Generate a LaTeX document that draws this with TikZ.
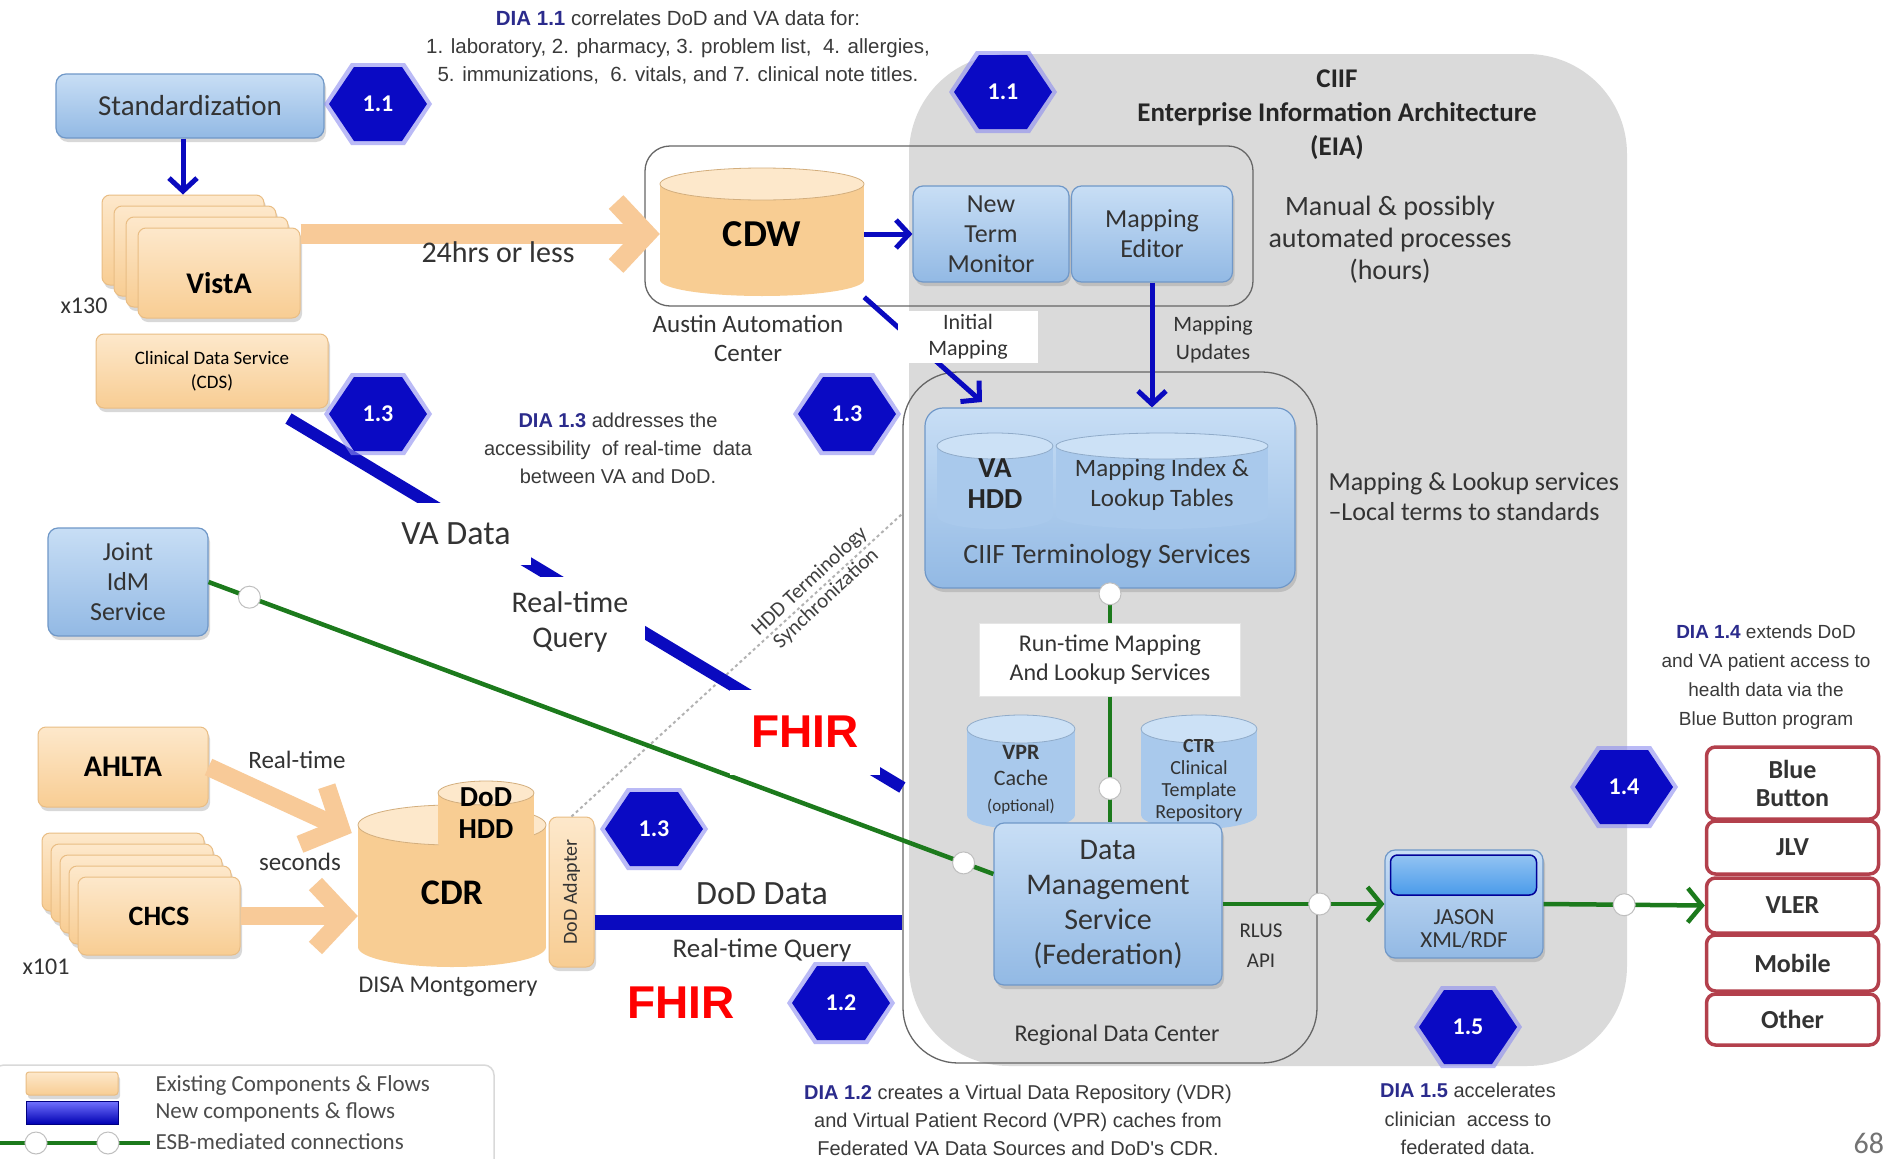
\documentclass[tikz,border=0pt]{standalone}
\usepackage{fontspec}
\setmainfont{Carlito}
\newfontfamily\arialf{Liberation Sans}
\usetikzlibrary{arrows.meta,shadows,calc}
\definecolor{hexblue}{HTML}{0A0AC4}
\definecolor{hexglow}{HTML}{8C8CF0}
\definecolor{flowblue}{HTML}{0A0ABF}
\definecolor{esbgreen}{HTML}{1C7A1C}
\definecolor{regiongray}{HTML}{DADADA}
\definecolor{boxtop}{HTML}{C8DEF5}
\definecolor{boxbot}{HTML}{92B9E4}
\definecolor{boxedge}{HTML}{7098C8}
\definecolor{cylbody}{HTML}{A9C9EC}
\definecolor{cyltop}{HTML}{CCE1F6}
\definecolor{orgtop}{HTML}{FDE8CB}
\definecolor{orgbot}{HTML}{F8CD93}
\definecolor{orgedge}{HTML}{E9BD84}
\definecolor{orgflow}{HTML}{F8CA98}
\definecolor{redline}{HTML}{B3404C}
\definecolor{txt}{HTML}{333333}
\definecolor{diagray}{HTML}{3A3A3A}
\definecolor{dianavy}{HTML}{2B2B8C}
\definecolor{barblue}{HTML}{4A9BEA}
\newcommand\fsz[2]{\fontsize{#1}{#2}\selectfont}
\newcommand\diatag[1]{{\bfseries\color{dianavy}DIA #1}}
\newcommand\cyl[7]{%
  \fill[#6] (#1-#4,#2) rectangle (#1+#4,#3);
  \fill[#6] (#1,#3) ellipse [x radius=#4pt, y radius=#5pt];
  \draw[#6!85!black, line width=0.8pt, fill=#7] (#1,#2) ellipse [x radius=#4pt, y radius=#5pt];
}
\newcommand\hexbadge[4]{%
  \fill[hexglow, opacity=0.6] (#2-54,#3) -- (#2-27,#3-41) -- (#2+27,#3-41) -- (#2+54,#3) -- (#2+27,#3+41) -- (#2-27,#3+41) -- cycle;
  \fill[hexblue] (#2-49,#3) -- (#2-24,#3-37) -- (#2+24,#3-37) -- (#2+49,#3) -- (#2+24,#3+37) -- (#2-24,#3+37) -- cycle;
  \node[hextext] (#1) at (#2,#3) {#4};
}
\begin{document}
\begin{tikzpicture}[x=1pt,y=-1pt,
  every node/.style={align=center, text=txt},
  shadowed/.style={drop shadow={opacity=0.3,shadow xshift=2pt,shadow yshift=-4pt}},
  bluebox/.style={draw=boxedge, line width=1.2pt, rounded corners=10pt, top color=boxtop, bottom color=boxbot, inner sep=0pt, shadowed},
  orangebox/.style={draw=orgedge, line width=1pt, rounded corners=8pt, top color=orgtop, bottom color=orgbot, inner sep=0pt, text=black, shadowed},
  redbox/.style={draw=redline, line width=3.5pt, fill=white, rounded corners=9pt, minimum width=172pt, inner sep=0pt, font=\bfseries\fsz{26}{28}},
  esbdot/.style={circle, draw=black!25, fill=white, line width=1pt, minimum size=22pt, inner sep=0pt},
  esb/.style={draw=esbgreen, line width=4.5pt},
  esbarrow/.style={esb, -{Straight Barb[length=14pt 0,width=34pt 0]}},
  flowarrow/.style={draw=flowblue, line width=5pt, -{Straight Barb[length=13pt 0,width=28pt 0]}},
  vaflow/.style={draw=flowblue, line width=12pt},
  orgarrow/.style={draw=orgflow, line width=20pt, -{Straight Barb[length=30pt 0,width=64pt 0]}},
  hextext/.style={text=white, font=\bfseries\fsz{24}{26}},
  dia/.style={font=\arialf\fsz{20}{28}, text=diagray},
  fhir/.style={font=\arialf\bfseries\fsz{46}{50}, text=red, fill=white, inner sep=0pt},
  whitelbl/.style={fill=white, inner sep=0pt},
]
\useasboundingbox (0,0) rectangle (1883,1159);
\fill[white] (0,0) rectangle (1883,1159);

% CIIF EIA gray region
\fill[regiongray, rounded corners=100pt] (909,54) rectangle (1627,1066);

% Austin box and Regional Data Center box
\node[draw=black!60, line width=1.3pt, rounded corners=25pt, minimum width=608pt, minimum height=160pt] (austin) at (949,226) {};
\node[draw=black!60, line width=1.3pt, rounded corners=55pt, minimum width=414pt, minimum height=691pt] (rdc) at (1110,717.5) {};

% ---------- top left
\node[bluebox, minimum width=268pt, minimum height=64pt, font=\fsz{29}{32}] (std) at (190,106) {Standardization};
\foreach \k/\nm in {3/vistaC,2/vistaB,1/vistaA}
  \node[orangebox, minimum width=162pt, minimum height=90pt] (\nm) at (219-12*\k,273-11*\k) {};
\node[orangebox, minimum width=162pt, minimum height=90pt] (vista) at (219,273) {};
\node[font=\bfseries\fsz{30}{32}, text=black] (vistatxt) at (219,283) {VistA};
\draw[flowarrow] (std.south -| vistaC.north) -- (vistaC.north);
\node[font=\fsz{24}{26}] (x130) at (84,306) {x130};
\node[orangebox, minimum width=232pt, minimum height=74pt, font=\fsz{19}{24}] (cds) at (212,371) {Clinical Data Service\\(CDS)};

% CDW
\cyl{762}{184}{280}{102}{16}{orgbot}{orgtop}
\node[minimum width=204pt, minimum height=126pt, font=\bfseries\fsz{38}{40}, text=black] (cdw) at (762,234) {CDW};
\draw[orgarrow] (vista.east |- cdw.west) -- (cdw.west);
\node[font=\fsz{30}{32}] (hrs) at (498,252) {24hrs or less};
\node[font=\fsz{25}{29}] (austinlbl) at (748,338) {Austin Automation\\Center};

% New Term Monitor / Mapping Editor
\node[bluebox, minimum width=156pt, minimum height=96pt, font=\fsz{26}{30}] (ntm) at (991,234) {New\\Term\\Monitor};
\node[bluebox, minimum width=161pt, minimum height=96pt, font=\fsz{26}{30}] (maped) at (1152,234) {Mapping\\Editor};
\draw[flowarrow] (cdw.east |- ntm.west) -- (ntm.west);

% CIIF title and notes
\node[font=\bfseries\fsz{27}{34}, text=black!85] (ciiftitle) at (1337,115) {CIIF\\Enterprise Information Architecture\\(EIA)};
\node[font=\fsz{28}{32}] (manual) at (1390,240) {Manual \& possibly\\automated processes\\(hours)};

% CIIF Terminology Services
\node[bluebox, rounded corners=18pt, minimum width=370pt, minimum height=180pt] (ciif) at (1110,498) {};
\cyl{995}{446}{516}{58}{13}{cylbody}{cyltop}
\cyl{1162}{446}{516}{106}{13}{cylbody}{cyltop}
\node[font=\bfseries\fsz{29}{31}, text=black!85] (vahdd) at (995,484) {VA\\HDD};
\node[font=\fsz{25}{30}] (mapidx) at (1162,485) {Mapping Index \&\\Lookup Tables};
\node[font=\fsz{28}{30}] (ciiflbl) at (1107,556) {CIIF Terminology Services};
\node[font=\fsz{26}{30}, anchor=west, align=left] (lookup) at (1325,497) {Mapping \& Lookup services\\--Local terms to standards};

% Mapping arrows
\coordinate (imend) at (982,402);
\draw[flowarrow] (cdw.south east) -- (imend);
\node[whitelbl, minimum width=140pt, minimum height=52pt, font=\fsz{22}{26}] (initmap) at (968,337) {Initial\\Mapping};
\draw[flowarrow] (maped.south) -- (maped.south |- ciif.north);
\node[font=\fsz{22}{28}] (mapupd) at (1213,340) {Mapping\\Updates};

% Run-time mapping, caches, DMS
\node[fill=white, draw=black!10, minimum width=261pt, minimum height=73pt, font=\fsz{24}{29}] (runtime) at (1110,660) {Run-time Mapping\\And Lookup Services};
\cyl{1021}{729}{815}{54}{14}{cylbody}{cyltop}
\cyl{1199}{729}{815}{58}{14}{cylbody}{cyltop}
\node[font=\fsz{22}{26}] (vpr) at (1021,780) {\textbf{VPR}\\Cache\\{\fsz{17}{20}(optional)}};
\node[font=\fsz{20}{22}] (ctr) at (1199,781) {\textbf{CTR}\\Clinical\\Template\\Repository};
\node[bluebox, minimum width=228pt, minimum height=162pt, font=\fsz{30}{35}] (dms) at (1108,904) {Data\\Management\\Service\\(Federation)};
\draw[esb] (ciif.south) -- (runtime.north) node[esbdot, pos=0.15] (dot1) {};
\draw[esb] (runtime.south) -- (runtime.south |- dms.north) node[esbdot, pos=0.73] (dot2) {};
\node[font=\fsz{21}{30}] (rlus) at (1261,946) {RLUS\\API};
\node[font=\fsz{24}{26}] (rdclbl) at (1117,1035) {Regional Data Center};

% JASON
\node[bluebox, minimum width=158pt, minimum height=108pt] (jason) at (1464,904) {};
\node[font=\fsz{23}{23}] (jasontxt) at (1464,929) {JASON\\XML/RDF};
\node[draw=blue!60!black, line width=1.5pt, rounded corners=7pt, top color=barblue!60, bottom color=barblue, minimum width=146pt, minimum height=40pt] (jasonbar) at (1463.5,875) {};

% right boxes
\node[redbox, minimum height=72pt] (bb) at (1792.5,783) {Blue\\Button};
\node[redbox, minimum height=53pt] (jlv) at (1792.5,847.5) {JLV};
\node[redbox, minimum height=55pt] (vler) at (1792.5,905.5) {VLER};
\node[redbox, minimum height=56pt] (mobile) at (1792.5,963) {Mobile};
\node[redbox, minimum height=51pt] (other) at (1792.5,1019.5) {Other};

\draw[esbarrow] (dms.east) -- (jason.west) node[esbdot, pos=0.6] (dot3) {};
\draw[esbarrow] (jason.east) -- (vler.west) node[esbdot, pos=0.5] (dot4) {};

% ---------- left lower
\node[bluebox, minimum width=160pt, minimum height=108pt, font=\fsz{26}{30}] (jidm) at (128,582) {Joint\\IdM\\Service};
\node[orangebox, minimum width=170pt, minimum height=80pt, font=\bfseries\fsz{30}{32}] (ahlta) at (123,767) {AHLTA};
\foreach \k/\nm in {4/chcsD,3/chcsC,2/chcsB,1/chcsA}
  \node[orangebox, minimum width=162pt, minimum height=78pt] (\nm) at (159-9*\k,916-11*\k) {};
\node[orangebox, minimum width=162pt, minimum height=78pt, font=\bfseries\fsz{28}{30}] (chcs) at (159,916) {CHCS};
\node[font=\fsz{24}{26}] (x101) at (46,967) {x101};

% CDR
\cyl{452}{825}{947}{94}{20}{orgbot}{orgtop}
\node[minimum width=188pt, minimum height=162pt, font=\bfseries\fsz{36}{38}, text=black] (cdr) at (452,893) {CDR};
\cyl{486}{793}{843}{48}{12}{orgbot}{orgtop}
\node[font=\bfseries\fsz{29}{32}, text=black] (dodhdd) at (486,813) {DoD\\HDD};
\node[orangebox, minimum width=45pt, minimum height=150pt] (dodad) at (571.5,892) {};
\node[rotate=90, font=\fsz{20}{22}] (dodadtxt) at (571.5,892) {DoD Adapter};
\node[font=\fsz{24}{26}] (disa) at (448,987) {DISA Montgomery};

\draw[orgarrow, line width=18pt] (ahlta.east) -- ($(cdr.west)+(-6,-60)$);
\draw[orgarrow, line width=18pt] (chcs.east) -- (cdr.west |- chcs.east);
\node[font=\fsz{25}{28}] (rt1) at (297,760) {Real-time};
\node[font=\fsz{25}{28}] (secs) at (300,862) {seconds};

% HDD terminology synchronization
\coordinate (syncend) at (902,514);
\draw[black!30, dashed, line width=2pt] (dodad.north) -- (syncend);
\node[rotate=43, font=\fsz{21}{24}, text=black!75] (synclbl) at (818,590) {HDD Terminology\\Synchronization};

% ESB from Joint IdM to DMS
\draw[esb] (jidm.east) -- ($(dms.west)+(0,-30)$) node[esbdot, pos=0.052] (dot5) {} node[esbdot, pos=0.962] (dot6) {};

% VA data flow
\draw[vaflow] ($(cds.south east)+(-40,10)$) -- ($(rdc.west)+(0,70)$);
\node[whitelbl, minimum width=150pt, minimum height=62pt, font=\fsz{34}{36}] (vadata) at (456,534) {VA Data};
\node[whitelbl, minimum width=150pt, minimum height=90pt, font=\fsz{30}{35}] (rtq) at (570,622) {Real-time\\Query};
\node[fhir, minimum width=150pt, minimum height=85pt] (fhir1) at (805,732) {FHIR};

% DoD data flow
\draw[vaflow, line width=15pt] (dodad.east |- 0,922) -- (rdc.west |- 0,922);
\node[font=\fsz{34}{36}] (doddata) at (762,894) {DoD Data};
\node[font=\fsz{27}{30}] (rtq2) at (762,950) {Real-time Query};
\node[fhir] (fhir2) at (681,1003) {FHIR};

% hexagon badges
\hexbadge{h11a}{378}{104}{1.1}
\hexbadge{h11b}{1003}{92}{1.1}
\hexbadge{h13a}{378}{414}{1.3}
\hexbadge{h13b}{847}{414}{1.3}
\hexbadge{h13c}{654}{829}{1.3}
\hexbadge{h12}{841}{1003}{1.2}
\hexbadge{h14}{1624}{787}{1.4}
\hexbadge{h15}{1468}{1027}{1.5}

% DIA descriptions
\node[dia, font=\arialf\fsz{20.5}{28}] (dia11) at (678,47) {\diatag{1.1} correlates DoD and VA data for:\\1. laboratory, 2. pharmacy, 3. problem list,\ \ 4. allergies,\\5. immunizations,\ \ 6. vitals, and 7. clinical note titles.};
\node[dia] (dia13) at (618,448) {\diatag{1.3} addresses the\\accessibility\ \ of real-time\ \ data\\between VA and DoD.};
\node[dia, font=\arialf\fsz{19}{29}] (dia14) at (1766,677) {\diatag{1.4} extends DoD\\and VA patient access to\\health data via the\\Blue Button program};
\node[dia, font=\arialf\fsz{20}{28.5}] (dia15) at (1468,1119) {\diatag{1.5} accelerates\\clinician\ \ access to\\federated data.};
\node[dia, font=\arialf\fsz{20}{28}] (dia12) at (1018,1120) {\diatag{1.2} creates a Virtual Data Repository (VDR)\\and Virtual Patient Record (VPR) caches from\\Federated VA Data Sources and DoD's CDR.};

% legend
\node[draw=black!15, line width=1.5pt, rounded corners=10pt, minimum width=500pt, minimum height=120pt] (legend) at (244,1125) {};
\node[orangebox, drop shadow={opacity=0}, rounded corners=3pt, minimum width=92pt, minimum height=23pt] (legorg) at (72,1083.5) {};
\node[draw=blue!50!black, top color=blue!55, bottom color=blue!70!black, minimum width=92pt, minimum height=23pt] (legblue) at (72,1112.5) {};
\coordinate (legg0) at (0,1143);
\coordinate (legg1) at (150,1143);
\draw[esb] (legg0) -- (legg1) node[esbdot, pos=0.24] (legd1) {} node[esbdot, pos=0.72] (legd2) {};
\node[anchor=west, font=\fsz{23}{26}, text=black!70] (legt1) at (152,1085) {Existing Components \& Flows};
\node[anchor=west, font=\fsz{23}{26}, text=black!70] (legt2) at (152,1112) {New components \& flows};
\node[anchor=west, font=\fsz{23}{26}, text=black!70] (legt3) at (152,1142) {ESB-mediated connections};

\node[anchor=west, font=\fsz{30}{32}, text=black!55] (pgnum) at (1850,1143) {68};
\end{tikzpicture}
\end{document}
